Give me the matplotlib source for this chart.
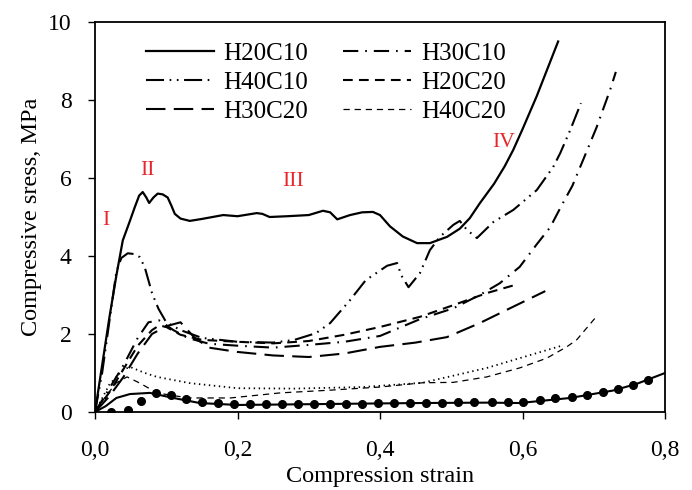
# compressive stress-strain curves for the H/C foam series
import numpy as np
import matplotlib
matplotlib.use("Agg")
import matplotlib.pyplot as plt

plt.rcParams['font.family'] = ['Liberation Serif', 'DejaVu Serif']
plt.rcParams['lines.scale_dashes'] = False

# data (strain, stress in MPa)
h20c10_x = [0, 0.01, 0.02, 0.03, 0.039, 0.048, 0.056, 0.062, 0.067, 0.072, 0.076, 0.082, 0.088, 0.095, 0.102,
            0.107, 0.112, 0.12, 0.133, 0.15, 0.18, 0.2, 0.227, 0.235, 0.245, 0.27, 0.3, 0.32, 0.33, 0.34, 0.358,
            0.375, 0.39, 0.4, 0.414, 0.432, 0.452, 0.47, 0.494, 0.512, 0.526, 0.54, 0.56, 0.575, 0.587, 0.6,
            0.62, 0.635, 0.65]
h20c10_y = [0, 1.2, 2.4, 3.5, 4.4, 4.85, 5.26, 5.55, 5.64, 5.5, 5.36, 5.5, 5.6, 5.58, 5.5,
            5.3, 5.08, 4.96, 4.9, 4.95, 5.05, 5.02, 5.1, 5.08, 5.0, 5.02, 5.05, 5.16, 5.12, 4.94, 5.05,
            5.12, 5.13, 5.05, 4.76, 4.5, 4.33, 4.33, 4.49, 4.7, 4.97, 5.35, 5.85, 6.3, 6.72, 7.25,
            8.1, 8.8, 9.5]

h30c10_x = [0, 0.02, 0.04, 0.06, 0.075, 0.09, 0.11, 0.13, 0.16, 0.2, 0.25, 0.3, 0.35, 0.4, 0.456, 0.503,
            0.54, 0.568, 0.596, 0.62, 0.639, 0.655, 0.67, 0.685, 0.704, 0.723, 0.731]
h30c10_y = [0, 0.6, 1.2, 1.9, 2.3, 2.35, 2.1, 1.9, 1.75, 1.7, 1.65, 1.72, 1.8, 1.95, 2.38, 2.66,
            3.0, 3.3, 3.72, 4.3, 4.74, 5.3, 5.8, 6.46, 7.3, 8.26, 8.72]

h40c10_x = [0, 0.01, 0.02, 0.03, 0.037, 0.046, 0.055, 0.063, 0.07, 0.08, 0.089, 0.1, 0.12, 0.15, 0.2, 0.25,
            0.28, 0.31, 0.33, 0.358, 0.38, 0.41, 0.424, 0.43, 0.44, 0.456, 0.47, 0.484, 0.503, 0.512, 0.522,
            0.536, 0.559, 0.587, 0.62, 0.643, 0.653, 0.667, 0.682]
h40c10_y = [0, 1.0, 2.3, 3.6, 3.95, 4.07, 4.05, 3.97, 3.7, 3.05, 2.65, 2.3, 2.1, 1.9, 1.8, 1.78,
            1.85, 2.02, 2.28, 2.87, 3.38, 3.75, 3.82, 3.5, 3.2, 3.56, 4.15, 4.49, 4.8, 4.9, 4.67,
            4.46, 4.87, 5.18, 5.69, 6.28, 6.64, 7.23, 7.92]

h20c20_x = [0, 0.02, 0.04, 0.06, 0.08, 0.09, 0.1, 0.12, 0.15, 0.2, 0.25, 0.3, 0.35, 0.4, 0.456, 0.503, 0.55, 0.59]
h20c20_y = [0, 0.5, 1.1, 1.7, 2.1, 2.22, 2.18, 1.98, 1.85, 1.8, 1.76, 1.82, 1.98, 2.18, 2.44, 2.74, 3.05, 3.26]

h30c20_x = [0, 0.02, 0.04, 0.06, 0.08, 0.1, 0.12, 0.14, 0.16, 0.2, 0.25, 0.3, 0.35, 0.4, 0.45, 0.494, 0.54,
            0.587, 0.632]
h30c20_y = [0, 0.4, 0.9, 1.5, 2.0, 2.2, 2.3, 1.9, 1.65, 1.54, 1.45, 1.41, 1.5, 1.67, 1.78, 1.92, 2.28,
            2.7, 3.1]

h40c20_x = [0, 0.015, 0.03, 0.045, 0.063, 0.087, 0.11, 0.133, 0.19, 0.26, 0.33, 0.4, 0.46, 0.503, 0.55,
            0.596, 0.634, 0.662, 0.676, 0.702]
h40c20_y = [0, 0.4, 0.75, 0.9, 0.74, 0.49, 0.42, 0.36, 0.36, 0.49, 0.56, 0.64, 0.75, 0.76, 0.9,
            1.13, 1.38, 1.67, 1.85, 2.41]

dotted_x = [0, 0.02, 0.04, 0.05, 0.07, 0.087, 0.133, 0.2, 0.28, 0.376, 0.46, 0.55, 0.596, 0.655]
dotted_y = [0, 0.7, 1.1, 1.15, 1.0, 0.9, 0.74, 0.61, 0.6, 0.64, 0.75, 1.13, 1.38, 1.7]

low_x = [0, 0.015, 0.03, 0.049, 0.077, 0.11, 0.147, 0.2, 0.3, 0.4, 0.456, 0.55, 0.596, 0.667, 0.727, 0.76, 0.8]
low_y = [0, 0.15, 0.36, 0.46, 0.49, 0.36, 0.23, 0.18, 0.2, 0.22, 0.23, 0.24, 0.23, 0.36, 0.55, 0.72, 1.0]

pts_x = [0.023, 0.046, 0.064, 0.085, 0.107, 0.128, 0.15, 0.172, 0.195, 0.217, 0.24, 0.262, 0.285, 0.307,
         0.33, 0.352, 0.375, 0.397, 0.42, 0.442, 0.465, 0.487, 0.51, 0.532, 0.557, 0.58, 0.601, 0.625,
         0.646, 0.669, 0.69, 0.713, 0.734, 0.755, 0.776]
pts_y = [0.0, 0.05, 0.27, 0.5, 0.44, 0.33, 0.26, 0.22, 0.2, 0.2, 0.2, 0.2, 0.2, 0.2,
         0.2, 0.21, 0.21, 0.22, 0.23, 0.23, 0.24, 0.24, 0.25, 0.25, 0.25, 0.26, 0.26, 0.31,
         0.36, 0.38, 0.44, 0.51, 0.59, 0.69, 0.82]

stage_labels = ["I", "II", "III", "IV"]
stage_x = [0.015, 0.074, 0.278, 0.573]
stage_y = [4.9, 6.2, 5.9, 6.9]

xticks = [0, 0.2, 0.4, 0.6, 0.8]
xticklabels = ["0,0", "0,2", "0,4", "0,6", "0,8"]
yticks = [0, 2, 4, 6, 8, 10]

fig = plt.figure(figsize=(6.92, 4.90), dpi=100)
ax = fig.add_axes([95 / 692, 78 / 490, 570 / 692, 390 / 490])

k = 'black'
l1, = ax.plot(h20c10_x, h20c10_y, color=k, lw=1.6, label="H20C10")
l2, = ax.plot(h30c10_x, h30c10_y, color=k, lw=1.5, dashes=(11, 5, 1.2, 5), label="H30C10")
l3, = ax.plot(h40c10_x, h40c10_y, color=k, lw=1.5, dashes=(13, 4, 1.2, 4, 1.2, 4), label="H40C10")
l4, = ax.plot(h20c20_x, h20c20_y, color=k, lw=1.5, dashes=(7, 4.5), label="H20C20")
l5, = ax.plot(h30c20_x, h30c20_y, color=k, lw=1.5, dashes=(14, 6), label="H30C20")
l6, = ax.plot(h40c20_x, h40c20_y, color=k, lw=0.9, dashes=(4.5, 3.5), label="H40C20")
ax.plot(dotted_x, dotted_y, color=k, lw=1.3, dashes=(1, 2.6))
ax.plot(low_x, low_y, color=k, lw=1.5)
ax.plot(pts_x, pts_y, 'o', color=k, ms=5.5, ls='none')

for s, x, y in zip(stage_labels, stage_x, stage_y):
    ax.text(x, y, s, color='#e8262a', fontsize=15.5, ha='center', va='center')

ax.set_xlim(0, 0.8)
ax.set_ylim(0, 10)
ax.set_xticks(xticks)
ax.set_xticklabels(xticklabels)
ax.set_yticks(yticks)
ax.tick_params(direction='out', length=5, width=1, labelsize=17)
ax.tick_params(axis='x', pad=15)
ax.tick_params(axis='y', pad=12)
for sp in ax.spines.values():
    sp.set_linewidth(1.3)
ax.set_xlabel("Compression strain", fontsize=17.5, labelpad=4)
ax.set_ylabel("Compressive sress, MPa", fontsize=17.5, labelpad=4)

# legend is filled column-wise, so order handles to match the 2x3 layout
ax.legend([l1, l3, l5, l2, l4, l6], ["H20C10", "H40C10", "H30C20", "H30C10", "H20C20", "H40C20"],
          ncol=2, frameon=False, fontsize=18, handlelength=2.7, columnspacing=1.4,
          labelspacing=0.25, handletextpad=0.4, loc='upper left', bbox_to_anchor=(0.05, 1.005))

fig.savefig("out.png", dpi=100)
